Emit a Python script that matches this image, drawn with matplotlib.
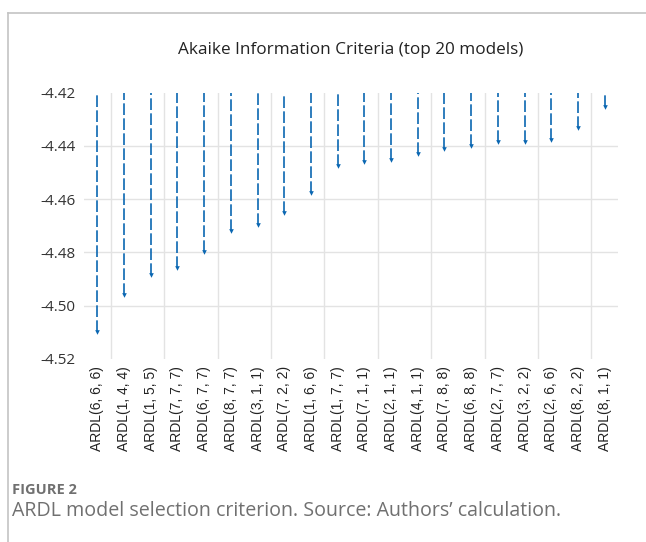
import matplotlib.pyplot as plt
from matplotlib.lines import Line2D

# model labels and AIC values
models = ['ARDL(6, 6, 6)', 'ARDL(1, 4, 4)', 'ARDL(1, 5, 5)', 'ARDL(7, 7, 7)',
          'ARDL(6, 7, 7)', 'ARDL(8, 7, 7)', 'ARDL(3, 1, 1)', 'ARDL(7, 2, 2)',
          'ARDL(1, 6, 6)', 'ARDL(1, 7, 7)', 'ARDL(7, 1, 1)', 'ARDL(2, 1, 1)',
          'ARDL(4, 1, 1)', 'ARDL(7, 8, 8)', 'ARDL(6, 8, 8)', 'ARDL(2, 7, 7)',
          'ARDL(3, 2, 2)', 'ARDL(2, 6, 6)', 'ARDL(8, 2, 2)', 'ARDL(8, 1, 1)']
aic = [-4.5099, -4.4961, -4.4886, -4.4860, -4.4799, -4.4719, -4.4695, -4.4650,
       -4.4576, -4.4477, -4.4461, -4.4452, -4.4429, -4.4410, -4.4399, -4.4384,
       -4.4384, -4.4376, -4.4334, -4.4252]
yticks = [-4.42, -4.44, -4.46, -4.48, -4.50, -4.52]

blue = '#0b67b2'
grid_c = '#e3e3e3'

fig = plt.figure(figsize=(6.46, 5.42), dpi=100)
ax = fig.add_axes([84/646, 1-359/542, (618-84)/646, (359-92.7)/542])

x = list(range(len(models)))
top = yticks[0]

ax.vlines(x, aic, top, colors=blue, linestyles=(0, (7, 2)), linewidth=1.2, zorder=3)
ax.scatter(x, aic, marker='v', s=11, color=blue, zorder=4, linewidths=0)

ax.set_xlim(-0.5, len(models) - 0.5)
ax.set_ylim(-4.52, -4.42)

# horizontal grid (no line at top/bottom)
for yv in yticks[1:-1]:
    ax.axhline(yv, color=grid_c, linewidth=1.0, zorder=1)
# vertical grid every second category boundary
for xv in range(0, len(models) - 1, 2):
    ax.axvline(xv + 0.5, color=grid_c, linewidth=1.0, zorder=1)

ax.set_yticks(yticks)
ax.set_yticklabels(['%.2f' % v for v in yticks], fontfamily='Open Sans', fontsize=11, color='#333333')
ax.set_xticks(x)
ax.set_xticklabels(models, rotation=90, fontfamily='Liberation Sans', fontsize=10, color='#222222')
ax.tick_params(length=0, pad=6)
ax.tick_params(axis='x', pad=5)
for s in ax.spines.values():
    s.set_visible(False)

fig.text(351/646, 1-50/542, 'Akaike Information Criteria (top 20 models)',
         ha='center', va='center', fontfamily='Open Sans', fontsize=12.3, color='#222222')

# frame lines of the figure panel
fig.add_artist(Line2D([8/646, 1], [1-13/542, 1-13/542], color='#c4c4c4', linewidth=1.2))
fig.add_artist(Line2D([8/646, 8/646], [0, 1-13/542], color='#c4c4c4', linewidth=1.2))

fig.text(12/646, 1-490/542, 'FIGURE 2', ha='left', va='center',
         fontfamily='Open Sans', fontsize=10.5, fontweight='bold', color='#707070')
fig.text(12/646, 1-511/542, "ARDL model selection criterion. Source: Authors\u2019 calculation.",
         ha='left', va='center', fontfamily='Open Sans', fontsize=14.1, color='#707070')

fig.savefig('out.png', dpi=100)
